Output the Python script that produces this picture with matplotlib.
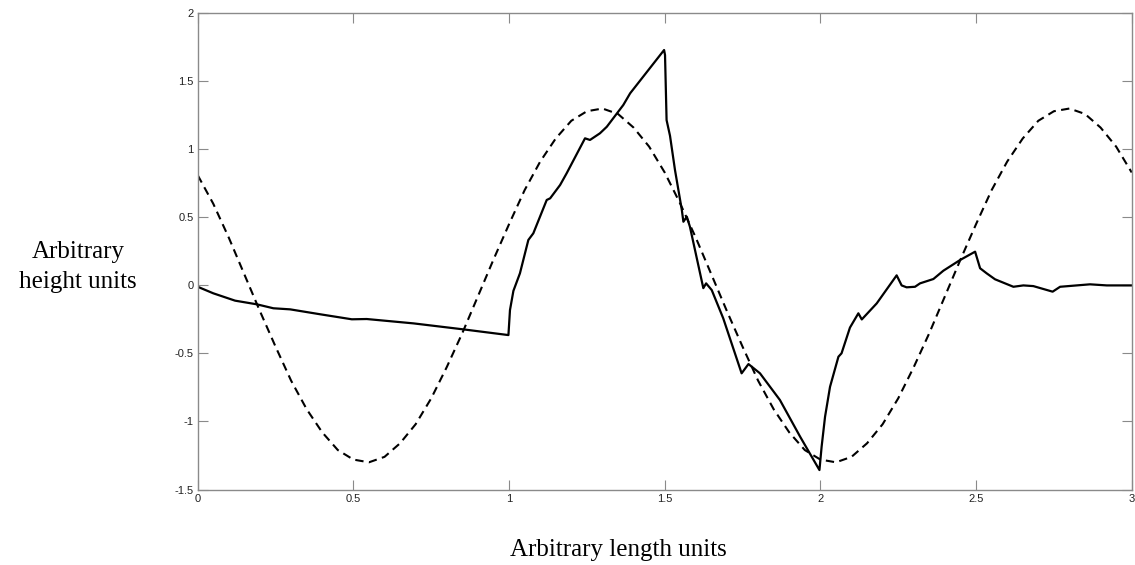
import matplotlib
matplotlib.use("Agg")
import matplotlib.pyplot as plt

# Dashed reference curve
dash_x = [round(0.05 * i, 2) for i in range(61)]
dash_y = [0.81, 0.60, 0.35, 0.08, -0.19, -0.45, -0.70, -0.91, -1.08, -1.21,
          -1.28, -1.30, -1.26, -1.16, -1.02, -0.83, -0.60, -0.35, -0.08, 0.19,
          0.45, 0.70, 0.91, 1.08, 1.21, 1.28, 1.30, 1.26, 1.16, 1.02,
          0.83, 0.60, 0.35, 0.08, -0.19, -0.45, -0.70, -0.91, -1.08, -1.21,
          -1.28, -1.30, -1.26, -1.16, -1.02, -0.83, -0.60, -0.35, -0.08, 0.19,
          0.45, 0.70, 0.91, 1.08, 1.21, 1.28, 1.30, 1.26, 1.16, 1.02, 0.83]

# Solid curve
solid_x = [0.000, 0.050, 0.120, 0.190, 0.243, 0.297, 0.393, 0.495, 0.543, 0.693,
           0.853, 0.998, 1.003, 1.014, 1.035, 1.062, 1.078, 1.121, 1.132, 1.164,
           1.185, 1.244, 1.260, 1.292, 1.314, 1.367, 1.389, 1.498, 1.501, 1.506,
           1.517, 1.533, 1.555, 1.560, 1.571, 1.581, 1.624, 1.633, 1.651, 1.688,
           1.747, 1.769, 1.806, 1.870, 1.935, 1.997, 2.004, 2.015, 2.031, 2.058,
           2.068, 2.095, 2.122, 2.133, 2.181, 2.245, 2.261, 2.277, 2.304, 2.320,
           2.363, 2.395, 2.449, 2.497, 2.513, 2.534, 2.561, 2.620, 2.652, 2.684,
           2.746, 2.770, 2.866, 2.920, 3.000]
solid_y = [-0.01, -0.058, -0.112, -0.139, -0.168, -0.176, -0.212, -0.249, -0.247, -0.279,
           -0.323, -0.365, -0.181, -0.04, 0.089, 0.334, 0.383, 0.628, 0.640, 0.738,
           0.824, 1.081, 1.069, 1.118, 1.166, 1.326, 1.412, 1.730, 1.693, 1.215,
           1.10, 0.848, 0.554, 0.468, 0.505, 0.431, -0.02, 0.015, -0.034, -0.242,
           -0.646, -0.578, -0.646, -0.842, -1.112, -1.357, -1.185, -0.965, -0.745, -0.524,
           -0.499, -0.31, -0.205, -0.25, -0.132, 0.074, 0.0, -0.014, -0.01, 0.015,
           0.047, 0.108, 0.187, 0.248, 0.126, 0.089, 0.045, -0.01, 0.0, -0.005,
           -0.046, -0.01, 0.008, 0.0, 0.0]

xticks = [0, 0.5, 1, 1.5, 2, 2.5, 3]
xtick_labels = ["0", "0.5", "1", "1.5", "2", "2.5", "3"]
yticks = [-1.5, -1, -0.5, 0, 0.5, 1, 1.5, 2]
ytick_labels = ["-1.5", "-1", "-0.5", "0", "0.5", "1", "1.5", "2"]

fig = plt.figure(figsize=(11.35, 5.65), dpi=100)
ax = fig.add_axes([0.1742, 0.1336, 0.8229, 0.8429])

ax.plot(dash_x, dash_y, color="black", lw=1.5, linestyle=(0, (4, 2.6)))
ax.plot(solid_x, solid_y, color="black", lw=1.6)

ax.set_xlim(0, 3)
ax.set_ylim(-1.5, 2)
ax.set_xticks(xticks)
ax.set_xticklabels(xtick_labels)
ax.set_yticks(yticks)
ax.set_yticklabels(ytick_labels)

gray = "#8a8a8a"
for s in ax.spines.values():
    s.set_color(gray)
    s.set_linewidth(1.0)
ax.tick_params(direction="in", length=7, width=0.8, color=gray,
               top=True, right=True, labelsize=8, labelcolor="#222222", pad=3)
for lab in ax.get_xticklabels() + ax.get_yticklabels():
    lab.set_fontfamily("Liberation Sans")

fig.text(618 / 1135, 1 - 550 / 565, "Arbitrary length units", ha="center", va="center",
         fontsize=18, family="Liberation Serif")
fig.text(78 / 1135, 1 - 267 / 565, "Arbitrary\nheight units", ha="center", va="center",
         fontsize=18, family="Liberation Serif", multialignment="center", linespacing=1.5)

fig.savefig("out.png", dpi=100)
